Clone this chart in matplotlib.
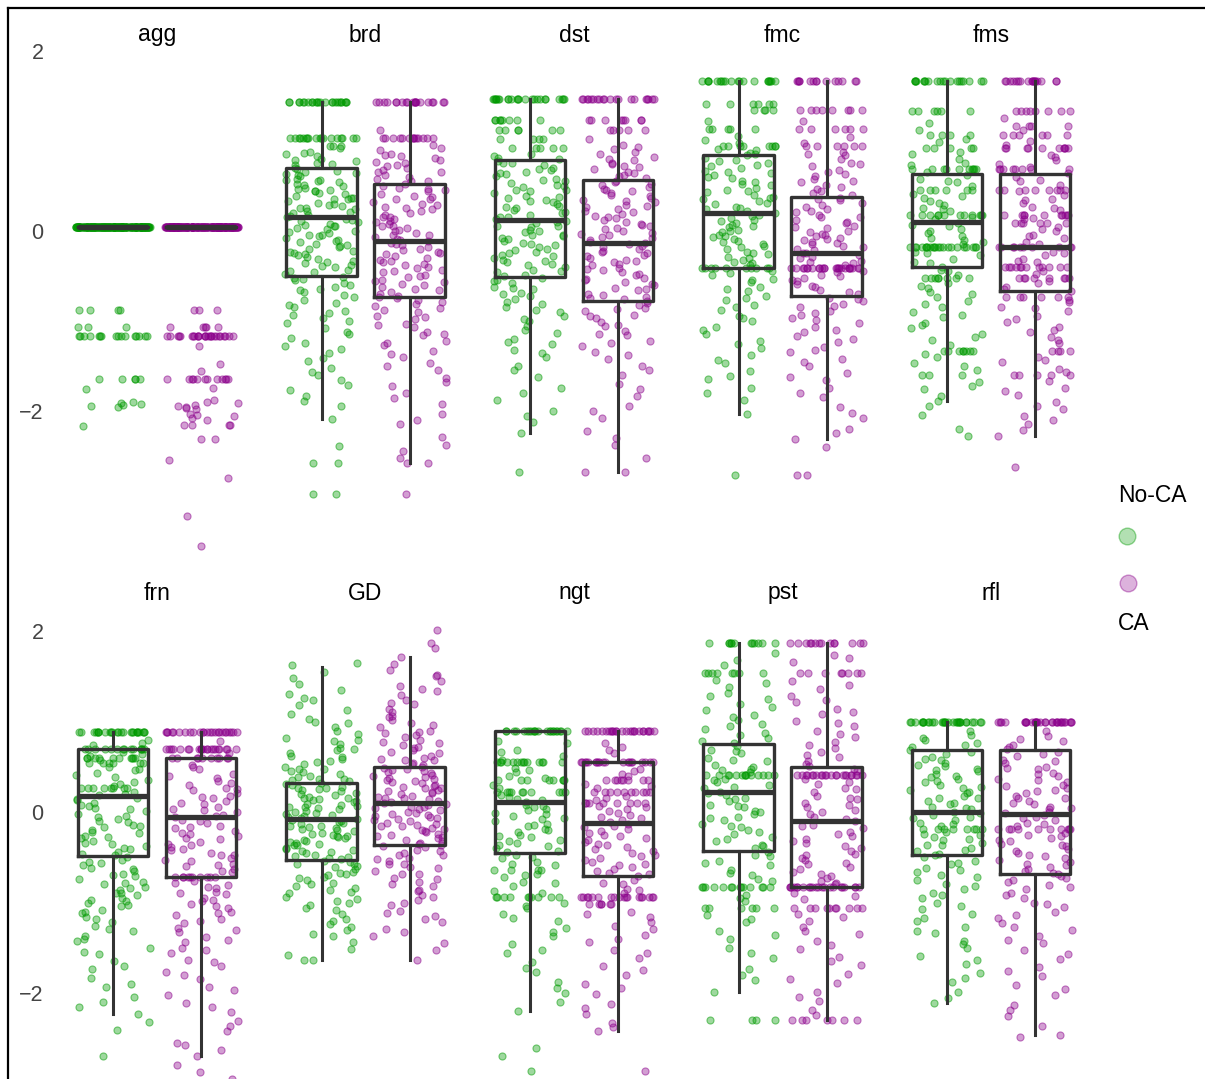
import numpy as np
import matplotlib
matplotlib.use("Agg")
import matplotlib.pyplot as plt
from matplotlib.lines import Line2D

plt.rcParams['font.family'] = ['Liberation Sans', 'DejaVu Sans']

# ---------------- data ----------------
facets = ['agg', 'brd', 'dst', 'fmc', 'fms', 'frn', 'GD', 'ngt', 'pst', 'rfl']
groups = ['No-CA', 'CA']

# box statistics: q1, median, q3, lower whisker, upper whisker
q1_noca = [0.04, -0.50, -0.51, -0.41, -0.40, -0.49, -0.53, -0.45, -0.43, -0.47]
med_noca = [0.04, 0.16, 0.12, 0.20, 0.10, 0.18, -0.08, 0.11, 0.22, 0.00]
q3_noca = [0.04, 0.70, 0.79, 0.84, 0.63, 0.70, 0.32, 0.89, 0.75, 0.69]
lo_noca = [0.04, -2.09, -2.24, -2.03, -1.89, -2.23, -1.64, -2.20, -1.99, -2.11]
hi_noca = [0.04, 1.43, 1.47, 1.67, 1.67, 0.88, 1.60, 0.89, 1.87, 1.00]

q1_ca = [0.04, -0.73, -0.78, -0.72, -0.67, -0.72, -0.36, -0.71, -0.83, -0.68]
med_ca = [0.04, -0.11, -0.13, -0.24, -0.18, -0.06, 0.10, -0.12, -0.10, -0.02]
q3_ca = [0.04, 0.52, 0.57, 0.38, 0.63, 0.60, 0.50, 0.55, 0.50, 0.69]
lo_ca = [0.04, -2.58, -2.68, -2.31, -2.28, -2.70, -1.64, -2.42, -2.30, -2.46]
hi_ca = [0.04, 1.43, 1.47, 1.67, 1.67, 0.88, 1.71, 0.89, 1.87, 1.00]

# individual scores
agg_noca = ([0.04] * 190 + [-0.88] * 4 + [-1.07] * 3 + [-1.17] * 16 + [-1.65] * 5 + [-1.76]
            + [-1.90, -1.92, -1.95, -1.96, -1.93, -1.91, -2.17])
agg_ca = ([0.04] * 200 + [-0.88] * 3 + [-1.07] * 5 + [-1.17] * 26 + [-1.28, -1.48, -1.56] + [-1.65] * 12
          + [-1.75, -1.88, -1.90, -1.93, -1.95, -1.96, -1.97, -1.98, -1.91, -2.03, -2.05, -2.08, -2.10, -2.06]
          + [-2.16] * 4 + [-2.31, -2.31, -2.54, -2.74, -3.17, -3.50])

brd_noca = [1.43] * 24 + [1.03] * 18 + [0.94] * 3 + [
    0.92, 0.88, 0.87, 0.83, 0.80, 0.79, 0.76, 0.74, 0.73, 0.70, 0.69, 0.66, 0.64, 0.63, 0.62, 0.58, 0.57,
    0.57, 0.55, 0.52, 0.51, 0.50, 0.47, 0.46, 0.44, 0.44, 0.41, 0.39, 0.37, 0.37, 0.35, 0.33, 0.30, 0.29,
    0.28, 0.25, 0.24, 0.21, 0.20, 0.18, 0.15, 0.13, 0.12, 0.10, 0.08, 0.06, 0.05, 0.02, 0.00, -0.02, -0.04,
    -0.05, -0.08, -0.10, -0.11, -0.14, -0.16, -0.17, -0.20, -0.23, -0.24, -0.27, -0.29, -0.31, -0.33, -0.36,
    -0.38, -0.40, -0.43, -0.46, -0.48, -0.51, -0.53, -0.55, -0.58, -0.62, -0.66, -0.68, -0.73, -0.77, -0.80,
    -0.85, -0.89, -0.93, -0.97, -1.02, -1.08, -1.12, -1.19, -1.24, -1.31, -1.36, -1.45, -1.52, -1.60, -1.71,
    -1.83, -1.95, -2.09, -2.39, -2.58, -2.58, -2.92, -2.92,
    0.85, 0.78, 0.67, 0.61, 0.54, 0.48, 0.42, 0.36, 0.31, 0.26, 0.22, 0.17, 0.11, 0.07, 0.03, -0.01, -0.06,
    -0.12, -0.18, -0.22, -0.26, -0.34, -0.39, -0.45, -0.52, -0.60, -0.64, -0.71, -0.82, -0.91, -1.00, -1.15,
    -1.28, -1.41, -1.57, -1.66, -1.77, -1.89]
brd_ca = [1.43] * 20 + [1.03] * 14 + [
    1.12, 0.95, 0.92, 0.90, 0.86, 0.84, 0.81, 0.79, 0.77, 0.73, 0.72, 0.70, 0.66, 0.65, 0.62, 0.60, 0.56,
    0.55, 0.52, 0.50, 0.48, 0.45, 0.44, 0.41, 0.38, 0.36, 0.35, 0.32, 0.29, 0.27, 0.25, 0.22, 0.20, 0.18,
    0.15, 0.13, 0.10, 0.08, 0.05, 0.03, 0.01, -0.02, -0.05, -0.07, -0.09, -0.11, -0.13, -0.16, -0.18, -0.21,
    -0.23, -0.25, -0.28, -0.30, -0.33, -0.35, -0.38, -0.41, -0.43, -0.46, -0.49, -0.51, -0.54, -0.57, -0.60,
    -0.62, -0.66, -0.70, -0.73, -0.75, -0.79, -0.83, -0.86, -0.90, -0.94, -0.98, -1.03, -1.07, -1.12, -1.16,
    -1.22, -1.27, -1.33, -1.40, -1.47, -1.55, -1.63, -1.72, -1.80, -1.92, -2.03, -2.15, -2.29, -2.45, -2.52,
    -2.58, -2.58, -2.92,
    0.83, 0.75, 0.68, 0.58, 0.47, 0.39, 0.30, 0.24, 0.16, 0.11, 0.06, 0.00, -0.04, -0.10, -0.15, -0.20,
    -0.26, -0.32, -0.37, -0.40, -0.45, -0.50, -0.56, -0.59, -0.64, -0.68, -0.72, -0.77, -0.81, -0.88, -0.96,
    -1.05, -1.14, -1.25, -1.37, -1.50, -1.68, -1.86, -2.10, -2.38]

dst_noca = [1.47] * 24 + [1.23] * 8 + [1.12] * 6 + [1.02] * 4 + [0.92] * 5 + [
    0.86, 0.83, 0.80, 0.78, 0.75, 0.73, 0.70, 0.68, 0.66, 0.63, 0.61, 0.58, 0.56, 0.53, 0.51, 0.49, 0.46,
    0.44, 0.42, 0.39, 0.37, 0.34, 0.33, 0.30, 0.28, 0.25, 0.23, 0.20, 0.18, 0.16, 0.13, 0.11, 0.09, 0.06,
    0.04, 0.01, -0.01, -0.04, -0.06, -0.08, -0.11, -0.13, -0.16, -0.18, -0.20, -0.23, -0.25, -0.28, -0.30,
    -0.33, -0.35, -0.38, -0.40, -0.43, -0.46, -0.49, -0.52, -0.55, -0.58, -0.62, -0.65, -0.69, -0.72, -0.76,
    -0.81, -0.85, -0.90, -0.95, -1.00, -1.06, -1.13, -1.20, -1.26, -1.32, -1.40, -1.50, -1.62, -1.75, -1.88,
    -2.00, -2.12, -2.24, -2.68,
    0.81, 0.76, 0.69, 0.64, 0.57, 0.50, 0.45, 0.38, 0.32, 0.27, 0.21, 0.15, 0.10, 0.05, 0.00, -0.05, -0.09,
    -0.15, -0.21, -0.27, -0.32, -0.37, -0.44, -0.50, -0.56, -0.63, -0.70, -0.79, -0.88, -0.98, -1.10, -1.23,
    -1.36, -1.55, -1.80, -2.06]
dst_ca = [1.47] * 20 + [1.23] * 8 + [1.12] * 5 + [
    1.02, 0.96, 0.93, 0.88, 0.85, 0.82, 0.79, 0.76, 0.74, 0.71, 0.69, 0.66, 0.64, 0.61, 0.59, 0.56, 0.54,
    0.51, 0.49, 0.47, 0.44, 0.42, 0.39, 0.37, 0.34, 0.32, 0.29, 0.27, 0.24, 0.22, 0.19, 0.17, 0.15, 0.12,
    0.10, 0.07, 0.05, 0.02, 0.00, -0.03, -0.05, -0.08, -0.10, -0.13, -0.15, -0.18, -0.20, -0.23, -0.25,
    -0.28, -0.30, -0.33, -0.35, -0.38, -0.41, -0.43, -0.46, -0.49, -0.52, -0.55, -0.57, -0.60, -0.63, -0.66,
    -0.70, -0.73, -0.76, -0.78, -0.82, -0.86, -0.89, -0.93, -0.97, -1.01, -1.06, -1.11, -1.16, -1.22, -1.28,
    -1.35, -1.42, -1.50, -1.60, -1.70, -1.83, -1.95, -2.08, -2.22, -2.38, -2.52, -2.68, -2.68,
    0.91, 0.80, 0.72, 0.62, 0.52, 0.45, 0.40, 0.33, 0.28, 0.21, 0.14, 0.08, 0.03, -0.02, -0.07, -0.12, -0.17,
    -0.22, -0.27, -0.32, -0.37, -0.42, -0.48, -0.53, -0.59, -0.65, -0.71, -0.75, -0.80, -0.87, -0.95, -1.04,
    -1.14, -1.25, -1.38, -1.55, -1.76, -2.00, -2.30]

fmc_noca = [1.67] * 20 + [1.41] * 6 + [1.34] * 4 + [1.13] * 5 + [0.94] * 8 + [-0.41] * 10 + [
    1.22, 1.05, 1.01, 0.98, 0.90, 0.87, 0.84, 0.81, 0.78, 0.75, 0.72, 0.70, 0.67, 0.64, 0.62, 0.59, 0.56,
    0.54, 0.51, 0.48, 0.46, 0.43, 0.40, 0.38, 0.35, 0.33, 0.30, 0.27, 0.25, 0.22, 0.20, 0.17, 0.14, 0.12,
    0.09, 0.07, 0.04, 0.01, -0.01, -0.04, -0.07, -0.09, -0.12, -0.15, -0.17, -0.20, -0.23, -0.26, -0.29,
    -0.32, -0.35, -0.38, -0.45, -0.49, -0.53, -0.57, -0.62, -0.67, -0.72, -0.77, -0.82, -0.88, -0.94, -1.00,
    -1.07, -1.14, -1.22, -1.30, -1.38, -1.47, -1.56, -1.65, -1.75, -1.88, -2.03, -2.71,
    0.91, 0.85, 0.79, 0.73, 0.66, 0.60, 0.52, 0.44, 0.37, 0.31, 0.24, 0.18, 0.11, 0.05, 0.00, -0.06, -0.11,
    -0.18, -0.24, -0.30, -0.36, -0.47, -0.55, -0.64, -0.74, -0.85, -0.97, -1.10, -1.26, -1.43, -1.61, -1.80]
fmc_ca = [1.67] * 14 + [1.34] * 8 + [1.13] * 6 + [0.94] * 6 + [-0.41] * 24 + [
    1.22, 1.04, 0.88, 0.84, 0.80, 0.76, 0.72, 0.68, 0.65, 0.61, 0.58, 0.54, 0.51, 0.47, 0.44, 0.40, 0.37,
    0.34, 0.31, 0.27, 0.24, 0.21, 0.18, 0.15, 0.12, 0.09, 0.06, 0.03, 0.00, -0.03, -0.06, -0.09, -0.10,
    -0.12, -0.15, -0.18, -0.21, -0.24, -0.27, -0.30, -0.33, -0.36, -0.46, -0.49, -0.52, -0.56, -0.59, -0.62,
    -0.66, -0.70, -0.74, -0.78, -0.81, -0.85, -0.89, -0.93, -0.97, -1.02, -1.07, -1.12, -1.17, -1.23, -1.29,
    -1.35, -1.42, -1.50, -1.58, -1.66, -1.75, -1.85, -1.96, -2.08, -2.20, -2.31, -2.40, -2.71, -2.71,
    0.98, 0.86, 0.74, 0.63, 0.56, 0.49, 0.42, 0.36, 0.29, 0.22, 0.16, 0.10, 0.04, -0.01, -0.05, -0.08, -0.13,
    -0.17, -0.20, -0.25, -0.29, -0.34, -0.38, -0.44, -0.50, -0.54, -0.61, -0.68, -0.76, -0.83, -0.91, -0.99,
    -1.10, -1.20, -1.32, -1.46, -1.62, -1.80, -2.02, -2.25]

fms_noca = ([1.67] * 20 + [1.33] * 6 + [1.07] * 4 + [0.92] * 5 + [0.69] * 10 + [0.46] * 6 + [0.18] * 12
            + [-0.18] * 22 + [-0.52] * 8 + [-1.33] * 8 + [-1.60] * 3 + [
    1.20, 1.12, 0.99, 0.85, 0.80, 0.76, 0.62, 0.58, 0.54, 0.50, 0.41, 0.37, 0.33, 0.29, 0.25, 0.22, 0.13,
    0.09, 0.05, 0.02, -0.02, -0.06, -0.10, -0.14, -0.23, -0.27, -0.31, -0.36, -0.40, -0.45, -0.58, -0.63,
    -0.68, -0.73, -0.78, -0.84, -0.90, -0.96, -1.02, -1.08, -1.14, -1.21, -1.27, -1.40, -1.47, -1.54, -1.68,
    -1.76, -1.83, -1.89, -2.05, -2.20, -2.28,
    1.02, 0.88, 0.73, 0.65, 0.56, 0.39, 0.31, 0.24, 0.15, 0.07, 0.00, -0.08, -0.12, -0.25, -0.34, -0.43,
    -0.49, -0.61, -0.70, -0.81, -0.93, -1.05, -1.18, -1.37, -1.50, -1.72, -1.95])
fms_ca = ([1.67] * 18 + [1.33] * 8 + [1.17] * 4 + [1.07] * 6 + [0.92] * 10 + [0.69] * 8 + [0.46] * 8
          + [0.18] * 10 + [0.09] * 6 + [-0.18] * 10 + [-0.40] * 12 + [-0.52] * 8 + [-0.73] * 6
          + [-1.33] * 4 + [-1.60] * 5 + [
    1.25, 1.00, 0.84, 0.79, 0.74, 0.64, 0.60, 0.55, 0.51, 0.40, 0.36, 0.31, 0.27, 0.23, 0.13, 0.04, 0.00,
    -0.04, -0.08, -0.12, -0.23, -0.27, -0.31, -0.35, -0.45, -0.58, -0.62, -0.67, -0.79, -0.84, -0.89, -0.95,
    -1.01, -1.07, -1.12, -1.18, -1.24, -1.40, -1.46, -1.53, -1.67, -1.74, -1.82, -1.90, -1.98, -2.06, -2.14,
    -2.21, -2.28, -2.62,
    1.12, 0.96, 0.82, 0.71, 0.57, 0.44, 0.34, 0.25, 0.14, 0.02, -0.06, -0.14, -0.25, -0.33, -0.48, -0.56,
    -0.64, -0.77, -0.86, -0.98, -1.10, -1.21, -1.43, -1.57, -1.78, -1.94, -2.10])

frn_noca = [0.88] * 25 + [0.70] * 14 + [0.60] * 10 + [0.54] * 6 + [0.26] * 8 + [
    0.80, 0.76, 0.66, 0.64, 0.50, 0.46, 0.43, 0.39, 0.35, 0.31, 0.29, 0.22, 0.19, 0.16, 0.13, 0.10, 0.07,
    0.04, 0.01, -0.02, -0.05, -0.08, -0.11, -0.14, -0.17, -0.20, -0.23, -0.26, -0.29, -0.32, -0.35, -0.38,
    -0.41, -0.44, -0.47, -0.50, -0.53, -0.56, -0.59, -0.62, -0.65, -0.68, -0.71, -0.74, -0.77, -0.80, -0.83,
    -0.86, -0.89, -0.92, -0.95, -0.98, -1.01, -1.04, -1.08, -1.12, -1.16, -1.21, -1.26, -1.31, -1.37, -1.43,
    -1.50, -1.57, -1.65, -1.74, -1.83, -1.93, -2.04, -2.15, -2.23, -2.32, -2.41, -2.70,
    0.74, 0.62, 0.57, 0.48, 0.41, 0.33, 0.20, 0.14, 0.08, 0.03, -0.04, -0.10, -0.16, -0.22, -0.28, -0.34,
    -0.40, -0.46, -0.55, -0.63, -0.70, -0.78, -0.84, -0.90, -0.97, -1.03, -1.10, -1.18, -1.29, -1.40, -1.55,
    -1.70, -1.90, -2.10]
frn_ca = [0.88] * 25 + [0.70] * 22 + [0.60] * 10 + [-0.72] * 10 + [
    0.79, 0.52, 0.47, 0.42, 0.38, 0.34, 0.30, 0.27, 0.24, 0.21, 0.18, 0.15, 0.12, 0.09, 0.06, 0.03, 0.00,
    -0.03, -0.06, -0.09, -0.12, -0.15, -0.18, -0.21, -0.24, -0.27, -0.30, -0.33, -0.36, -0.39, -0.42, -0.45,
    -0.48, -0.51, -0.54, -0.57, -0.60, -0.63, -0.66, -0.78, -0.81, -0.84, -0.88, -0.91, -0.95, -0.98, -1.02,
    -1.06, -1.10, -1.14, -1.18, -1.23, -1.28, -1.33, -1.38, -1.44, -1.50, -1.56, -1.63, -1.70, -1.77, -1.85,
    -1.93, -2.02, -2.11, -2.21, -2.31, -2.42, -2.55, -2.63, -2.70, -2.80, -2.87, -2.95,
    0.65, 0.50, 0.40, 0.32, 0.25, 0.17, 0.10, 0.02, -0.04, -0.10, -0.17, -0.23, -0.29, -0.35, -0.41, -0.47,
    -0.53, -0.59, -0.65, -0.76, -0.83, -0.90, -0.97, -1.04, -1.12, -1.20, -1.30, -1.41, -1.53, -1.66, -1.80,
    -1.97, -2.16, -2.37, -2.58]

GD_noca = [
    1.65, 1.62, 1.55, 1.48, 1.41, 1.35, 1.30, 1.24, 1.18, 1.13, 1.08, 1.03, 0.98, 0.94, 0.90, 0.86, 0.82,
    0.78, 0.75, 0.71, 0.68, 0.65, 0.62, 0.59, 0.56, 0.53, 0.50, 0.47, 0.45, 0.42, 0.40, 0.37, 0.35, 0.32,
    0.30, 0.28, 0.26, 0.24, 0.21, 0.19, 0.17, 0.15, 0.13, 0.11, 0.09, 0.07, 0.05, 0.03, 0.01, -0.01, -0.03,
    -0.05, -0.07, -0.09, -0.11, -0.13, -0.15, -0.17, -0.19, -0.21, -0.23, -0.25, -0.27, -0.29, -0.31, -0.33,
    -0.35, -0.37, -0.40, -0.42, -0.44, -0.47, -0.49, -0.52, -0.54, -0.57, -0.60, -0.63, -0.66, -0.69, -0.72,
    -0.75, -0.78, -0.82, -0.86, -0.90, -0.94, -0.98, -1.03, -1.08, -1.13, -1.18, -1.24, -1.30, -1.37, -1.44,
    -1.51, -1.58, -1.64, -1.64, 0.44, 0.39, 0.34, 0.31, 0.27, 0.23, 0.20, 0.16, 0.12, 0.08, 0.04, 0.00,
    -0.04, -0.08, -0.12, -0.16, -0.20, -0.24, -0.28, -0.32, -0.36, -0.41, -0.45, -0.50, -0.55, -0.61, -0.67,
    -0.73, -0.80, -0.88, -0.96, 0.55, 0.61, 0.70, 0.80, -1.06, -1.20, -1.35,
    0.25, 0.14, 0.06, -0.02, -0.10, -0.18, -0.26, -0.34, -0.43, -0.51, -0.58, 0.36, 0.48, -0.70, -0.84,
    -1.01, -1.27, 1.00, 1.26]
GD_ca = [
    2.01, 1.87, 1.81, 1.71, 1.64, 1.57, 1.51, 1.45, 1.39, 1.34, 1.29, 1.24, 1.19, 1.14, 1.10, 1.06, 1.02,
    0.98, 0.94, 0.90, 0.87, 0.83, 0.80, 0.77, 0.74, 0.71, 0.68, 0.65, 0.62, 0.59, 0.57, 0.54, 0.52, 0.49,
    0.47, 0.45, 0.43, 0.41, 0.38, 0.36, 0.34, 0.32, 0.30, 0.28, 0.26, 0.24, 0.22, 0.20, 0.18, 0.16, 0.14,
    0.12, 0.10, 0.08, 0.06, 0.04, 0.02, 0.00, -0.02, -0.04, -0.06, -0.08, -0.10, -0.12, -0.14, -0.16, -0.18,
    -0.20, -0.22, -0.25, -0.27, -0.29, -0.32, -0.34, -0.37, -0.39, -0.42, -0.45, -0.48, -0.51, -0.54, -0.57,
    -0.61, -0.65, -0.69, -0.73, -0.77, -0.82, -0.87, -0.92, -0.97, -1.03, -1.09, -1.15, -1.22, -1.29, -1.37,
    -1.45, -1.53, -1.64, 0.96, 0.85, 0.76, 0.66, 0.58, 0.50, 0.44, 0.39, 0.33, 0.27, 0.21, 0.15, 0.09, 0.03,
    -0.03, -0.09, -0.15, -0.21, -0.28, -0.35, -0.43, -0.52, -0.62, -0.74, -0.86, -1.00, -1.18, 1.20, 1.36,
    0.60, 0.53, 0.46, 0.40, 0.35, 0.29, 0.23, 0.17, 0.11, 0.05, -0.01, -0.07, -0.13, -0.19, -0.24, -0.31,
    -0.38, -0.47, -0.57, -0.68, -0.80, -0.94, -1.12, -1.33, 1.05, 1.50, 0.72, 0.88]

ngt_noca = [0.89] * 22 + [0.55] * 14 + [0.35] * 8 + [0.22] * 10 + [-0.94] * 10 + [-0.64] * 4 + [
    0.76, 0.69, 0.62, 0.46, 0.40, 0.30, 0.17, 0.14, 0.11, 0.08, 0.05, 0.02, -0.01, -0.04, -0.07, -0.10,
    -0.13, -0.16, -0.19, -0.22, -0.25, -0.28, -0.31, -0.34, -0.37, -0.40, -0.43, -0.47, -0.51, -0.55, -0.59,
    -0.68, -0.72, -0.77, -0.82, -0.87, -1.00, -1.06, -1.13, -1.20, -1.28, -1.37, -1.46, -1.56, -1.66, -1.77,
    -1.88, -2.00, -2.10, -2.20, -2.61, -2.70, -2.86,
    0.79, 0.66, 0.58, 0.49, 0.44, 0.38, 0.27, 0.19, 0.13, 0.07, 0.03, -0.02, -0.08, -0.14, -0.20, -0.26,
    -0.32, -0.38, -0.44, -0.50, -0.57, -0.70, -0.79, -0.90, -1.04, -1.17, -1.33, -1.52, -1.72, -1.95]
ngt_ca = [0.89] * 25 + [0.55] * 20 + [0.35] * 8 + [0.22] * 10 + [0.10] * 8 + [-0.94] * 18 + [-1.02] * 6 + [
    0.72, 0.65, 0.45, 0.40, 0.29, 0.16, 0.05, 0.01, -0.03, -0.07, -0.11, -0.15, -0.19, -0.23, -0.27, -0.31,
    -0.35, -0.39, -0.43, -0.47, -0.51, -0.55, -0.59, -0.63, -0.67, -0.71, -0.75, -0.80, -0.85, -0.89, -1.10,
    -1.16, -1.22, -1.29, -1.36, -1.44, -1.52, -1.61, -1.70, -1.80, -1.90, -2.01, -2.12, -2.23, -2.33, -2.42,
    -2.86,
    0.76, 0.68, 0.48, 0.42, 0.31, 0.26, 0.18, 0.13, 0.07, 0.03, -0.01, -0.05, -0.09, -0.13, -0.17, -0.21,
    -0.25, -0.29, -0.33, -0.37, -0.41, -0.45, -0.49, -0.53, -0.57, -0.61, -0.65, -0.69, -0.78, -0.86, -1.13,
    -1.26, -1.40, -1.56, -1.75, -1.95, -2.17, -2.38]

pst_noca = [1.87] * 12 + [1.54] * 8 + [0.41] * 14 + [-0.83] * 14 + [-1.06] * 6 + [-2.30] * 4 + [
    1.76, 1.68, 1.46, 1.38, 1.31, 1.25, 1.19, 1.13, 1.07, 1.02, 0.97, 0.92, 0.87, 0.82, 0.78, 0.73, 0.69,
    0.65, 0.60, 0.56, 0.52, 0.48, 0.44, 0.37, 0.33, 0.30, 0.26, 0.22, 0.19, 0.15, 0.12, 0.08, 0.05, 0.01,
    -0.02, -0.06, -0.09, -0.13, -0.17, -0.20, -0.24, -0.28, -0.32, -0.36, -0.40, -0.44, -0.49, -0.54, -0.59,
    -0.64, -0.70, -0.76, -0.92, -0.98, -1.14, -1.22, -1.31, -1.40, -1.50, -1.61, -1.73, -1.86, -1.99,
    1.62, 1.42, 1.28, 1.16, 1.05, 0.95, 0.85, 0.76, 0.67, 0.58, 0.50, 0.46, 0.35, 0.28, 0.21, 0.14, 0.07,
    0.00, -0.07, -0.15, -0.22, -0.30, -0.38, -0.47, -0.56, -0.67, -0.74, -0.95, -1.18, -1.36, -1.56, -1.80]
pst_ca = [1.87] * 14 + [1.54] * 8 + [0.41] * 22 + [-0.83] * 22 + [-1.06] * 10 + [-2.30] * 7 + [
    1.74, 1.66, 1.45, 1.36, 1.28, 1.21, 1.14, 1.08, 1.01, 0.95, 0.89, 0.83, 0.77, 0.71, 0.66, 0.61, 0.56,
    0.51, 0.47, 0.36, 0.31, 0.27, 0.22, 0.18, 0.14, 0.10, 0.06, 0.02, -0.02, -0.06, -0.10, -0.14, -0.18,
    -0.22, -0.26, -0.30, -0.34, -0.38, -0.43, -0.48, -0.53, -0.58, -0.63, -0.68, -0.73, -0.78, -0.90, -0.96,
    -1.13, -1.20, -1.27, -1.35, -1.43, -1.51, -1.60, -1.69, -1.79, -1.89, -1.99, -2.09, -2.19,
    1.70, 1.40, 1.24, 1.11, 0.98, 0.86, 0.74, 0.63, 0.53, 0.45, 0.33, 0.25, 0.16, 0.08, 0.00, -0.08, -0.16,
    -0.24, -0.32, -0.40, -0.46, -0.51, -0.56, -0.61, -0.66, -0.71, -0.76, -0.80, -0.93, -1.16, -1.31, -1.47,
    -1.65, -1.84, -2.04, -2.24]

rfl_noca = [1.00] * 30 + [-0.19] * 8 + [
    0.90, 0.85, 0.80, 0.76, 0.72, 0.68, 0.64, 0.61, 0.57, 0.54, 0.51, 0.48, 0.45, 0.42, 0.39, 0.36, 0.33,
    0.30, 0.27, 0.24, 0.21, 0.18, 0.15, 0.12, 0.09, 0.06, 0.03, 0.00, -0.03, -0.06, -0.09, -0.12, -0.15,
    -0.22, -0.25, -0.28, -0.31, -0.34, -0.37, -0.40, -0.43, -0.46, -0.50, -0.54, -0.58, -0.62, -0.66, -0.70,
    -0.75, -0.80, -0.85, -0.90, -0.95, -1.01, -1.07, -1.13, -1.20, -1.27, -1.34, -1.42, -1.50, -1.59, -1.68,
    -1.78, -1.88, -1.99, -2.11,
    0.82, 0.74, 0.66, 0.59, 0.52, 0.46, 0.40, 0.34, 0.28, 0.22, 0.16, 0.10, 0.04, -0.01, -0.07, -0.13,
    -0.24, -0.30, -0.36, -0.42, -0.48, -0.56, -0.64, -0.72, -0.82, -0.92, -1.04, -1.17, -1.31, -1.46, -1.63,
    -1.83, -2.05]
rfl_ca = [1.00] * 30 + [-0.19] * 10 + [
    0.90, 0.84, 0.79, 0.74, 0.70, 0.66, 0.62, 0.58, 0.54, 0.50, 0.47, 0.43, 0.40, 0.37, 0.33, 0.30, 0.27,
    0.24, 0.21, 0.18, 0.15, 0.12, 0.09, 0.06, 0.03, 0.00, -0.03, -0.06, -0.09, -0.12, -0.15, -0.23, -0.26,
    -0.29, -0.32, -0.35, -0.38, -0.41, -0.45, -0.49, -0.53, -0.57, -0.61, -0.65, -0.69, -0.73, -0.77, -0.81,
    -0.85, -0.90, -0.95, -1.00, -1.05, -1.11, -1.17, -1.23, -1.30, -1.37, -1.45, -1.53, -1.62, -1.71, -1.81,
    -1.91, -2.02, -2.13, -2.25, -2.36, -2.46, -2.49,
    0.81, 0.72, 0.64, 0.56, 0.49, 0.42, 0.35, 0.29, 0.23, 0.16, 0.10, 0.04, -0.01, -0.07, -0.13, -0.25,
    -0.31, -0.37, -0.43, -0.47, -0.51, -0.55, -0.59, -0.63, -0.67, -0.71, -0.75, -0.83, -0.92, -1.02, -1.14,
    -1.27, -1.41, -1.57, -1.76, -1.96, -2.19]

scores_noca = [agg_noca, brd_noca, dst_noca, fmc_noca, fms_noca, frn_noca, GD_noca, ngt_noca, pst_noca, rfl_noca]
scores_ca = [agg_ca, brd_ca, dst_ca, fmc_ca, fms_ca, frn_ca, GD_ca, ngt_ca, pst_ca, rfl_ca]

# ---------------- style ----------------
col_noca = '#009a00'
col_ca = '#8b008b'
box_col = '#333333'

W, H = 1205, 1079
fig = plt.figure(figsize=(W / 100, H / 100), dpi=100)

# pixel layout of the two facet rows: (top px, bottom px, zero px, px per unit)
rows = [(45, 560, 231, 90.0), (615, 1079, 812, 90.5)]
title_y = [35, 593]

# horizontal jitter only (y values are kept as they are)
rng = np.random.default_rng(7)

for idx, name in enumerate(facets):
    r, c = divmod(idx, 5)
    top, bot, zero, ppu = rows[r]
    left = 60.2 + 208.5 * c
    width = 2.2 * 88
    ax = fig.add_axes([left / W, 1 - bot / H, width / W, (bot - top) / H])
    ax.set_xlim(0.4, 2.6)
    ax.set_ylim((zero - bot) / ppu, (zero - top) / ppu)

    for k, (vals, col) in enumerate([(scores_noca[idx], col_noca), (scores_ca[idx], col_ca)]):
        y = np.array(vals)
        x = k + 1 + rng.uniform(-0.42, 0.42, len(y))
        ax.scatter(x, y, s=26, facecolor=matplotlib.colors.to_rgba(col, 0.38),
                   edgecolor=matplotlib.colors.to_rgba(col, 0.5), linewidth=0.8, zorder=2)

    stats = [
        dict(q1=q1_noca[idx], med=med_noca[idx], q3=q3_noca[idx], whislo=lo_noca[idx], whishi=hi_noca[idx]),
        dict(q1=q1_ca[idx], med=med_ca[idx], q3=q3_ca[idx], whislo=lo_ca[idx], whishi=hi_ca[idx]),
    ]
    ax.bxp(stats, positions=[1, 2], widths=0.8, showfliers=False, showcaps=False,
           boxprops=dict(color=box_col, linewidth=2.4),
           whiskerprops=dict(color=box_col, linewidth=2.2),
           medianprops=dict(color=box_col, linewidth=3.8, solid_capstyle='butt'),
           zorder=3)

    for s in ax.spines.values():
        s.set_visible(False)
    ax.set_xticks([])
    if c == 0:
        ax.set_yticks([2, 0, -2])
        ax.set_yticklabels(['2', '0', '\u22122'])
        ax.tick_params(axis='y', length=0, pad=12, labelsize=15.5, labelcolor='#444444')
    else:
        ax.set_yticks([])
    ax.patch.set_visible(False)

    fig.text((left + width / 2) / W, 1 - title_y[r] / H, name, ha='center', va='center',
             fontsize=16.5, color='black')

# legend
fig.text(1118 / W, 1 - 495 / H, 'No-CA', ha='left', va='center', fontsize=16.5)
fig.text(1118 / W, 1 - 623 / H, 'CA', ha='left', va='center', fontsize=16.5)
fig.add_artist(Line2D([1127 / W], [1 - 536 / H], marker='o', markersize=12, linestyle='none',
                      markerfacecolor=matplotlib.colors.to_rgba(col_noca, 0.3),
                      markeredgecolor=matplotlib.colors.to_rgba(col_noca, 0.4),
                      transform=fig.transFigure))
fig.add_artist(Line2D([1128 / W], [1 - 583 / H], marker='o', markersize=12, linestyle='none',
                      markerfacecolor=matplotlib.colors.to_rgba(col_ca, 0.3),
                      markeredgecolor=matplotlib.colors.to_rgba(col_ca, 0.4),
                      transform=fig.transFigure))

# outer frame (left and top edges)
fig.add_artist(Line2D([8 / W, 8 / W], [0, 1 - 8 / H], color='black', linewidth=1.6,
                      transform=fig.transFigure))
fig.add_artist(Line2D([8 / W, 1], [1 - 8 / H, 1 - 8 / H], color='black', linewidth=1.6,
                      transform=fig.transFigure))

fig.savefig('out.png', dpi=100)
